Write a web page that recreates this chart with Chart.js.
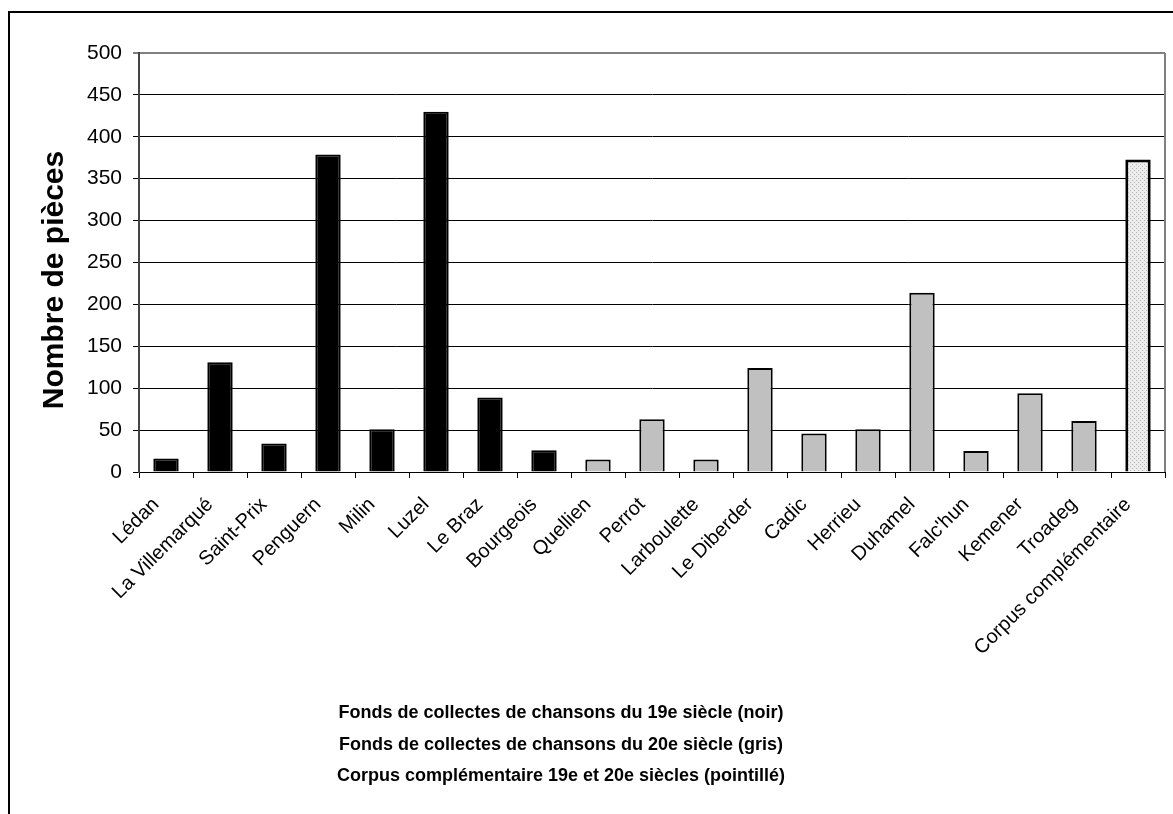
<!DOCTYPE html>
<html>
<head>
<meta charset="utf-8">
<script src="https://cdn.jsdelivr.net/npm/chart.js@4.4.1/dist/chart.umd.min.js"></script>
<style>
    html, body { margin: 0; padding: 0; background: #fff; overflow: hidden; }
    #frame { position: absolute; left: 8px; top: 11px; right: -10px; bottom: -10px;
             border-left: 2px solid #000; border-top: 2px solid #000; }
    canvas { position: absolute; left: 0; top: 0; }
</style>
</head>
<body>
<div id="frame"></div>
<canvas id="c" width="1173" height="814"></canvas>
<script>
(function() {
    'use strict';

    // Collections
    const categories = ['Lédan', 'La Villemarqué', 'Saint-Prix', 'Penguern', 'Milin', 'Luzel', 'Le Braz', 'Bourgeois',
                        'Quellien', 'Perrot', 'Larboulette', 'Le Diberder', 'Cadic', 'Herrieu', 'Duhamel', "Falc'hun",
                        'Kemener', 'Troadeg', 'Corpus complémentaire'];
    const values = [16, 131, 34, 379, 51, 430, 89, 26,
                    15, 63, 15, 124, 46, 51, 214, 25, 94, 61,
                    373];
    // 19 = black, 20 = grey, C = dotted
    const groups = ['19', '19', '19', '19', '19', '19', '19', '19',
                    '20', '20', '20', '20', '20', '20', '20', '20', '20', '20',
                    'C'];
    const yMin = 0, yMax = 500, yStep = 50;
    const yTitle = 'Nombre de pièces';
    const captionLines = [
        'Fonds de collectes de chansons du 19e siècle (noir)',
        'Fonds de collectes de chansons du 20e siècle (gris)',
        'Corpus complémentaire 19e et 20e siècles (pointillé)'
    ];

    const FONT = "'Liberation Sans', Arial, sans-serif";

    // stipple pattern for the complementary corpus
    const tile = document.createElement('canvas');
    tile.width = 4; tile.height = 4;
    const tctx = tile.getContext('2d');
    tctx.fillStyle = '#ececec';
    tctx.fillRect(0, 0, 4, 4);
    tctx.fillStyle = '#b4b4b4';
    tctx.fillRect(0, 0, 1, 1);
    tctx.fillRect(2, 2, 1, 1);
    const dotted = document.getElementById('c').getContext('2d').createPattern(tile, 'repeat');

    const fills = groups.map(g => g === '19' ? '#000' : g === '20' ? '#c0c0c0' : dotted);
    const borders = groups.map(g => g === 'C' ? 3 : 2);

    const plotFrame = {
        id: 'plotFrame',
        afterDatasetsDraw(chart) {
            const { ctx, chartArea: a } = chart;
            ctx.save();
            ctx.strokeStyle = '#808080';
            ctx.lineWidth = 2;
            ctx.beginPath();
            ctx.moveTo(a.right, a.top);
            ctx.lineTo(a.right, a.bottom);
            ctx.stroke();
            ctx.restore();
        }
    };

    // y title (sits a bit below the plot's middle) and the three caption lines
    const texts = {
        id: 'texts',
        afterDraw(chart) {
            const ctx = chart.ctx;
            ctx.save();
            ctx.fillStyle = '#000';
            ctx.textAlign = 'center';
            ctx.textBaseline = 'alphabetic';

            ctx.save();
            ctx.translate(63, 280);
            ctx.rotate(-Math.PI / 2);
            ctx.font = 'bold 30px ' + FONT;
            ctx.fillText(yTitle, 0, 0);
            ctx.restore();

            ctx.font = 'bold 18px ' + FONT;
            captionLines.forEach((t, i) => ctx.fillText(t, 561, 718 + i * 31.5));
            ctx.restore();
        }
    };

    new Chart(document.getElementById('c'), {
        type: 'bar',
        data: {
            labels: categories,
            datasets: [{
                data: values,
                backgroundColor: fills,
                borderColor: '#000',
                borderWidth: borders,
                barPercentage: 0.47,
                categoryPercentage: 1
            }]
        },
        options: {
            responsive: false,
            animation: false,
            devicePixelRatio: 1,
            layout: { padding: { top: 53, right: 8, left: 0, bottom: 0 } },
            plugins: { legend: { display: false }, tooltip: { enabled: false } },
            scales: {
                x: {
                    grid: { drawOnChartArea: false, color: '#000', tickLength: 6, offset: true },
                    border: { color: '#000', width: 1 },
                    ticks: {
                        autoSkip: false, minRotation: 45, maxRotation: 45,
                        padding: 15, labelOffset: -10, color: '#000',
                        font: { family: FONT, size: 20 }
                    },
                    afterFit(s) { s.height = 342; }
                },
                y: {
                    min: yMin, max: yMax,
                    grid: {
                        color: c => c.tick && c.tick.value === yMax ? '#808080' : '#000',
                        lineWidth: c => c.tick && c.tick.value === yMax ? 2 : 1,
                        tickLength: 6
                    },
                    border: { color: '#444', width: 2 },
                    ticks: { stepSize: yStep, padding: 11, color: '#000', font: { family: FONT, size: 21 } },
                    afterFit(s) { s.width = 139; }
                }
            }
        },
        plugins: [plotFrame, texts]
    });
})();
</script>
</body>
</html>
